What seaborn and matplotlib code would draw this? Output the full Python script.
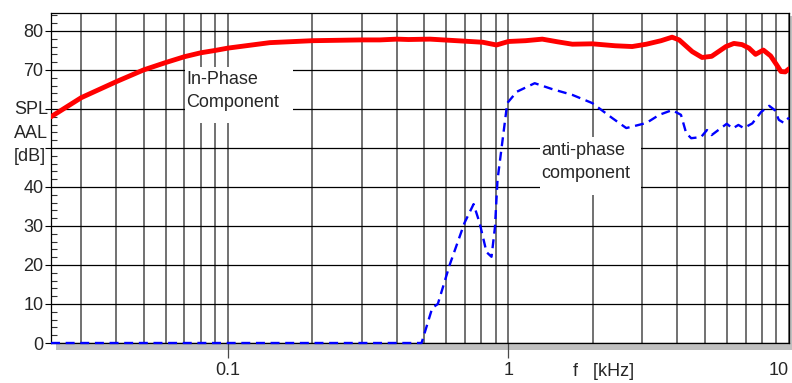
import numpy as np
import pandas as pd
import matplotlib
matplotlib.use("Agg")
import matplotlib.pyplot as plt
import seaborn as sns
from matplotlib.ticker import LogLocator, NullFormatter, MultipleLocator
from matplotlib.patches import Rectangle

# ---- data (frequency in kHz, level in dB) ----
red_f = [0.0234, 0.03, 0.04, 0.05, 0.06, 0.07, 0.08, 0.09, 0.1, 0.141, 0.2, 0.3,
         0.348, 0.40, 0.44, 0.525, 0.69, 0.81, 0.906, 1.0, 1.15, 1.32, 1.5, 1.69,
         1.99, 2.4, 2.76, 3.1, 3.5, 3.83, 4.06, 4.52, 4.9, 5.3, 5.96, 6.36, 6.8,
         7.2, 7.6, 8.1, 8.6, 9.0, 9.36, 9.7, 10.0]
red_v = [58.0, 62.9, 67.0, 70.0, 71.9, 73.4, 74.4, 75.0, 75.6, 77.0, 77.5, 77.7,
         77.7, 77.9, 77.8, 77.9, 77.4, 77.1, 76.4, 77.3, 77.5, 77.9, 77.2, 76.6,
         76.7, 76.2, 76.0, 76.6, 77.5, 78.4, 77.7, 74.7, 73.2, 73.5, 76.0, 76.8, 76.5,
         75.6, 74.0, 75.1, 73.6, 71.5, 69.6, 69.5, 70.3]

blue_f = [0.0234, 0.49, 0.535, 0.56, 0.617, 0.697, 0.751, 0.789, 0.835, 0.87, 0.895,
          0.914, 0.99, 1.07, 1.24, 1.43, 1.69, 1.99, 2.34, 2.63, 3.1, 3.45, 3.83,
          4.12, 4.3, 4.48, 4.86, 5.1, 5.3, 5.6, 6.0, 6.3, 6.6, 6.9, 7.4, 7.95, 8.5,
          8.9, 9.2, 9.6, 10.0]
blue_v = [0, 0, 9.0, 10, 20, 30.8, 35.6, 30.8, 23.3, 22.1, 29.7,
          41.8, 61.5, 64.4, 66.6, 65.1, 63.6, 61.5, 57.7, 55.1, 56.4, 58.5, 59.7,
          58.5, 53.8, 52.5, 52.8, 54.6, 53.3, 54.6, 56.2, 55.0, 55.9, 55.1, 56.3, 59.2, 60.8,
          59.7, 57.2, 56.4, 57.8]

x_ticks = [0.1, 1, 10]
x_ticklabels = ["0.1", "1", "10"]
y_ticks = [0, 10, 20, 30, 40, 50, 60, 70, 80]
y_ticklabels = ["0", "10", "20", "30", "40", "", "", "70", "80"]

sns.set_style("white")
plt.rcParams["font.family"] = ["Liberation Sans", "DejaVu Sans"]
FS = 13
LS = 1.5

W, H = 792, 383
L, R, T, B = 51, 789, 13, 343
fig = plt.figure(figsize=(W / 100, H / 100), dpi=100)
ax = fig.add_axes([L / W, 1 - B / H, (R - L) / W, (B - T) / H])
ax.set_facecolor("white")

# drop shadow of the plot frame
shadow = Rectangle((56 / W, 1 - 350 / H), (792 - 56) / W, (350 - 16) / H,
                   transform=fig.transFigure, facecolor="#c0c0c0",
                   edgecolor="none", zorder=-5)
fig.add_artist(shadow)

df_red = pd.DataFrame({"f": red_f, "v": red_v})
df_blue = pd.DataFrame({"f": blue_f, "v": blue_v})

sns.lineplot(data=df_red, x="f", y="v", ax=ax, color="#ff0000", lw=3.5,
             zorder=5, solid_capstyle="round", solid_joinstyle="round")
sns.lineplot(data=df_blue, x="f", y="v", ax=ax, color="#0000ff", lw=1.7,
             zorder=6, clip_on=False)
ax.lines[-1].set_dashes([3.8, 2.4])

ax.set_xscale("log")
ax.set_xlim(0.0234, 10)
ax.set_ylim(0, 84.6)
ax.set_xlabel("")
ax.set_ylabel("")

# grid
ax.set_axisbelow(True)
ax.grid(True, axis="x", which="both", color="#4a4a4a", lw=1.1)
ax.grid(True, axis="y", which="major", color="black", lw=0.9)
ax.grid(False, axis="y", which="minor")

# ticks
ax.set_xticks(x_ticks)
ax.set_xticklabels(x_ticklabels)
ax.xaxis.set_minor_locator(LogLocator(base=10, subs=np.arange(2, 10)))
ax.xaxis.set_minor_formatter(NullFormatter())
ax.tick_params(axis="x", which="major", bottom=True, direction="out", length=11,
               width=0.9, color="#4a4a4a", pad=3, labelsize=FS)
ax.tick_params(axis="x", which="minor", bottom=False, length=0)
ax.xaxis.get_major_ticks()[2].tick1line.set_visible(False)
ax.get_xticklabels()[2].set_horizontalalignment("right")

ax.set_yticks(y_ticks)
ax.set_yticklabels(y_ticklabels)
ax.yaxis.set_minor_locator(MultipleLocator(2))
ax.tick_params(axis="y", which="major", left=True, direction="out", length=4,
               width=0.8, color="black", pad=1.5, labelsize=FS)
ax.tick_params(axis="y", which="minor", left=True, direction="in", length=4.5,
               width=0.8, color="#333333")

for s in ax.spines.values():
    s.set_visible(True)
    s.set_color("black")
    s.set_linewidth(0.9)

# annotation boxes (white, covering the grid)
ax.add_patch(Rectangle(((185 - L) / (R - L), (B - 123) / (B - T)),
                       108 / (R - L), 56 / (B - T), transform=ax.transAxes,
                       facecolor="white", edgecolor="none", zorder=2))
ax.text((186 - L) / (R - L), (B - 91) / (B - T), "In-Phase\nComponent",
        transform=ax.transAxes, ha="left", va="center", fontsize=FS,
        linespacing=LS, zorder=3)

ax.add_patch(Rectangle(((540 - L) / (R - L), (B - 195) / (B - T)),
                       101 / (R - L), 58 / (B - T), transform=ax.transAxes,
                       facecolor="white", edgecolor="none", zorder=2))
ax.text((541 - L) / (R - L), (B - 162) / (B - T), "anti-phase\ncomponent",
        transform=ax.transAxes, ha="left", va="center", fontsize=FS,
        linespacing=LS, zorder=3)

# axis labels
fig.text(14 / W, 1 - 133 / H, "SPL\nAAL\n[dB]", ha="left", va="center",
         fontsize=FS, linespacing=LS)
fig.text(573 / W, 1 - 372 / H, "f   [kHz]", ha="left", va="center", fontsize=FS)

fig.savefig("out.png", dpi=100)
